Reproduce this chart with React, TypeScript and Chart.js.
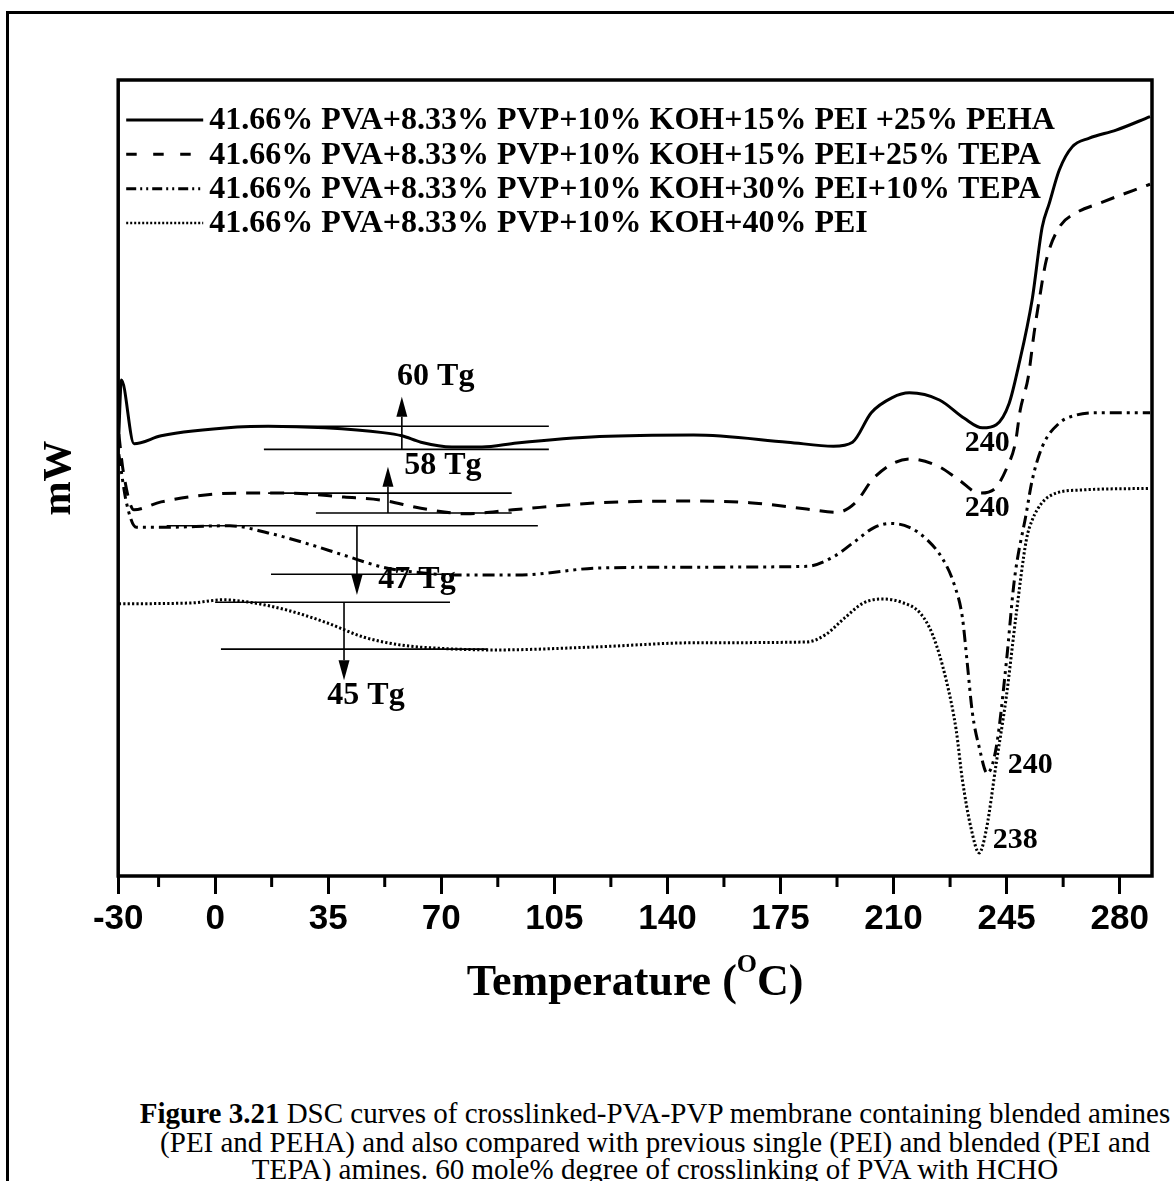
import React, { useEffect, useRef } from 'react';
import { Chart, registerables } from 'chart.js';

Chart.register(...registerables);

// ---------- data ----------
const seriesNames = [
  '41.66% PVA+8.33% PVP+10% KOH+15% PEI +25% PEHA',
  '41.66% PVA+8.33% PVP+10% KOH+15% PEI+25% TEPA',
  '41.66% PVA+8.33% PVP+10% KOH+30% PEI+10% TEPA',
  '41.66% PVA+8.33% PVP+10% KOH+40% PEI',
];

const solidT = [-29.9, -29.0, -25.1, -16.7, 6.8, 16.4, 34.0, 51.9, 57.8, 63.7, 73.3, 82.6, 93.4, 119.0, 148.1, 177.2, 191.4, 197.3, 203.1, 209.6, 214.9, 224.2, 231.9, 237.5, 241.8, 245.8, 248.6, 252.9, 256.0, 258.2, 261.3, 265.3, 270.6, 278.9, 289.4];
const solidV = [54.5, 62.3, 54.3, 55.3, 56.4, 56.5, 56.3, 55.7, 55.3, 54.5, 53.9, 53.9, 54.4, 55.2, 55.4, 54.5, 54.0, 54.5, 58.2, 60.1, 60.7, 59.8, 57.5, 56.3, 56.7, 59.4, 63.9, 72.4, 81.5, 84.5, 88.7, 91.6, 92.7, 93.7, 95.4];

const dashedT = [-29.8, -28.5, -25.1, -16.7, 6.8, 22.3, 39.9, 51.9, 63.7, 77.9, 92.1, 119.0, 148.1, 165.4, 183.1, 192.6, 198.2, 204.1, 214.9, 224.2, 230.4, 236.5, 241.2, 245.2, 247.7, 249.2, 251.7, 253.5, 255.1, 257.3, 261.3, 266.5, 273.6, 286.0, 289.4];
const dashedV = [55.5, 51.0, 46.0, 47.0, 48.1, 48.1, 47.6, 47.2, 46.2, 45.5, 46.0, 46.9, 47.1, 46.9, 46.1, 45.7, 46.9, 50.1, 52.4, 51.4, 49.7, 48.1, 48.6, 51.4, 54.4, 58.5, 62.7, 68.2, 72.4, 77.4, 81.5, 83.3, 84.5, 86.4, 86.9];

const dashDotT = [-29.8, -27.5, -24.4, -16.7, 4.6, 16.4, 28.1, 39.9, 51.9, 63.7, 75.4, 93.4, 119.0, 148.1, 183.1, 191.4, 197.3, 204.1, 209.0, 214.9, 220.5, 225.4, 228.8, 231.3, 232.8, 234.4, 236.5, 239.0, 241.8, 244.9, 247.4, 251.1, 252.9, 256.0, 261.3, 266.5, 273.6, 289.4];
const dashDotV = [53.0, 47.0, 43.8, 43.8, 44.0, 43.1, 41.8, 40.3, 38.8, 38.1, 37.8, 37.8, 38.7, 38.8, 38.9, 40.1, 41.8, 43.8, 44.3, 43.8, 42.2, 39.7, 36.6, 32.5, 26.8, 20.5, 16.2, 12.9, 16.2, 26.8, 37.2, 45.6, 49.7, 53.9, 56.9, 57.9, 58.2, 58.2];

const dottedT = [-29.8, -7.4, 2.2, 10.5, 22.3, 34.0, 46.1, 57.8, 69.6, 87.2, 119.0, 148.1, 183.1, 188.9, 194.8, 200.7, 206.5, 212.4, 218.3, 222.2, 226.3, 229.4, 231.3, 234.1, 236.5, 238.7, 241.8, 244.9, 248.0, 251.1, 252.9, 256.0, 260.3, 268.4, 289.4];
const dottedV = [34.2, 34.3, 34.7, 34.4, 33.4, 31.9, 30.0, 29.0, 28.6, 28.4, 28.8, 29.3, 29.4, 30.3, 32.4, 34.3, 34.8, 34.4, 33.0, 30.2, 24.6, 18.3, 12.1, 5.8, 2.9, 5.8, 14.2, 22.5, 33.0, 42.2, 44.7, 46.9, 48.1, 48.5, 48.7];

const majorTicks = [-30, 0, 35, 70, 105, 140, 175, 210, 245, 280];
const minorTicks = [-17.5, 17.5, 52.5, 87.5, 122.5, 157.5, 192.5, 227.5, 262.5];

// Tg annotations
const tgLabels = ['60 Tg', '58 Tg', '47 Tg', '45 Tg'];
const tgLabelX = [68.3, 70.5, 62.5, 46.7];
const tgLabelY = [62.7, 51.6, 37.2, 22.7];
const tgArrowX = [57.8, 53.5, 43.9, 39.9];
const tgArrowFrom = [53.6, 45.6, 44.0, 34.4];
const tgArrowTo = [60.2, 51.4, 35.3, 24.6];
const tgUpperY = [56.5, 48.1, 44.0, 34.4];
const tgUpperX0 = [15.1, 16.4, -15.0, 0.0];
const tgUpperX1 = [103.3, 91.8, 99.9, 72.7];
const tgLowerY = [53.6, 45.6, 37.9, 28.5];
const tgLowerX0 = [15.1, 31.2, 17.3, 1.8];
const tgLowerX1 = [103.3, 91.8, 72.7, 84.4];

// peak labels
const peakLabels = ['240', '240', '240', '238'];
const peakX = [239.0, 239.0, 252.3, 247.7];
const peakY = [54.4, 46.2, 13.9, 4.5];

const xTitleMain = 'Temperature (';
const xTitleSup = 'O';
const xTitleEnd = 'C)';
const yTitle = 'mW';

const captionBold = 'Figure 3.21';
const captionLines = [
  ' DSC curves of crosslinked-PVA-PVP membrane containing blended amines',
  '(PEI and PEHA) and also compared with previous single (PEI) and blended (PEI and',
  'TEPA) amines. 60 mole% degree of crosslinking of PVA with HCHO',
];

// ---------- styles ----------
const SERIF = "'Liberation Serif', 'Times New Roman', Times, serif";
const SANS = "'Liberation Sans', Arial, Helvetica, sans-serif";
const plotDash = [[], [14, 10], [12, 5, 3, 5, 3, 5], [2.2, 2.2]];
const legendDash = [[], [10.5, 16.5], [10, 4, 2, 4, 2, 4], [2, 2]];

const toPoints = (xs: number[], ys: number[]) => xs.map((x, i) => ({ x, y: ys[i] }));

const decorPlugin = {
  id: 'decor',
  afterDraw(chart: any) {
    const { ctx, chartArea: a, scales } = chart;
    const xs = scales.x;
    const ys = scales.y;
    const px = (v: number) => xs.getPixelForValue(v);
    const py = (v: number) => ys.getPixelForValue(v);
    ctx.save();
    ctx.strokeStyle = '#000';
    ctx.fillStyle = '#000';

    // frame
    ctx.setLineDash([]);
    ctx.lineWidth = 3.5;
    ctx.strokeRect(a.left, a.top, a.right - a.left, a.bottom - a.top);

    // minor ticks
    ctx.lineWidth = 3;
    ctx.beginPath();
    for (const v of minorTicks) {
      const x = px(v);
      ctx.moveTo(x, a.bottom);
      ctx.lineTo(x, a.bottom + 11);
    }
    ctx.stroke();

    // legend
    for (let i = 0; i < seriesNames.length; i++) {
      const yy = a.top + 40 + i * 34.33;
      ctx.setLineDash(legendDash[i]);
      ctx.lineWidth = i === 3 ? 2.6 : 3;
      ctx.beginPath();
      ctx.moveTo(a.left + 8, yy);
      ctx.lineTo(a.left + 85, yy);
      ctx.stroke();
      ctx.setLineDash([]);
      ctx.font = `bold 32px ${SERIF}`;
      ctx.textAlign = 'left';
      ctx.textBaseline = 'middle';
      ctx.fillText(seriesNames[i], a.left + 91, yy + 1);
    }

    // Tg annotations
    ctx.setLineDash([]);
    for (let i = 0; i < tgLabels.length; i++) {
      ctx.lineWidth = 1.6;
      ctx.beginPath();
      ctx.moveTo(px(tgUpperX0[i]), py(tgUpperY[i]));
      ctx.lineTo(px(tgUpperX1[i]), py(tgUpperY[i]));
      ctx.moveTo(px(tgLowerX0[i]), py(tgLowerY[i]));
      ctx.lineTo(px(tgLowerX1[i]), py(tgLowerY[i]));
      ctx.stroke();
      // arrow
      const ax = px(tgArrowX[i]);
      const y0 = py(tgArrowFrom[i]);
      const y1 = py(tgArrowTo[i]);
      const dir = y1 < y0 ? -1 : 1;
      const headLen = 20;
      const headHalf = 5.5;
      ctx.beginPath();
      ctx.moveTo(ax, y0);
      ctx.lineTo(ax, y1 - dir * headLen);
      ctx.stroke();
      ctx.beginPath();
      ctx.moveTo(ax, y1);
      ctx.lineTo(ax - headHalf, y1 - dir * headLen);
      ctx.lineTo(ax + headHalf, y1 - dir * headLen);
      ctx.closePath();
      ctx.fill();
      // label
      ctx.font = `bold 32px ${SERIF}`;
      ctx.textAlign = 'center';
      ctx.textBaseline = 'middle';
      ctx.fillText(tgLabels[i], px(tgLabelX[i]), py(tgLabelY[i]));
    }

    // peak labels
    ctx.font = `bold 30px ${SERIF}`;
    ctx.textAlign = 'center';
    ctx.textBaseline = 'middle';
    for (let i = 0; i < peakLabels.length; i++) {
      ctx.fillText(peakLabels[i], px(peakX[i]), py(peakY[i]));
    }

    // x title with superscript
    const mainFont = `bold 44px ${SERIF}`;
    const supFont = `bold 26px ${SERIF}`;
    ctx.font = mainFont;
    const w1 = ctx.measureText(xTitleMain).width;
    const w3 = ctx.measureText(xTitleEnd).width;
    ctx.font = supFont;
    const w2 = ctx.measureText(xTitleSup).width;
    const total = w1 + w2 + w3;
    const cx = (a.left + a.right) / 2;
    const baseY = a.bottom + 119;
    let x0 = cx - total / 2;
    ctx.textAlign = 'left';
    ctx.textBaseline = 'alphabetic';
    ctx.font = mainFont;
    ctx.fillText(xTitleMain, x0, baseY);
    x0 += w1;
    ctx.font = supFont;
    ctx.fillText(xTitleSup, x0, baseY - 23);
    x0 += w2;
    ctx.font = mainFont;
    ctx.fillText(xTitleEnd, x0, baseY);

    ctx.restore();
  },
};

function DscChart() {
  const ref = useRef<HTMLCanvasElement | null>(null);
  useEffect(() => {
    if (!ref.current) return;
    const series = [
      toPoints(solidT, solidV),
      toPoints(dashedT, dashedV),
      toPoints(dashDotT, dashDotV),
      toPoints(dottedT, dottedV),
    ];
    const chart = new Chart(ref.current, {
      type: 'line',
      data: {
        datasets: series.map((pts, i) => ({
          label: seriesNames[i],
          data: pts,
          borderColor: '#000',
          backgroundColor: '#000',
          borderWidth: 3,
          borderDash: plotDash[i],
          pointRadius: 0,
          fill: false,
          cubicInterpolationMode: 'monotone' as const,
        })),
      },
      options: {
        animation: false,
        responsive: false,
        devicePixelRatio: 1,
        layout: { padding: { left: 20, right: 22, top: 80, bottom: 96 } },
        plugins: { legend: { display: false }, tooltip: { enabled: false } },
        scales: {
          x: {
            type: 'linear',
            min: -30,
            max: 290,
            afterBuildTicks: (s: any) => {
              s.ticks = majorTicks.map((v) => ({ value: v }));
            },
            grid: {
              display: true,
              drawOnChartArea: false,
              drawTicks: true,
              tickLength: 18,
              tickWidth: 3,
              tickColor: '#000',
            },
            border: { display: false },
            ticks: {
              padding: 4,
              color: '#000',
              autoSkip: false,
              maxRotation: 0,
              font: { family: SANS, size: 35, weight: 'bold' },
            },
            title: { display: false },
          },
          y: {
            type: 'linear',
            min: 0,
            max: 100,
            grid: { display: false, drawTicks: false },
            border: { display: false },
            ticks: { display: false },
            title: {
              display: true,
              text: yTitle,
              color: '#000',
              font: { family: SERIF, size: 41, weight: 'bold' },
              padding: { top: 15, bottom: 34 },
            },
          },
        },
      } as any,
      plugins: [decorPlugin],
    });
    return () => chart.destroy();
  }, []);
  return <canvas ref={ref} width={1174} height={1040} style={{ position: 'absolute', left: 0, top: 0, width: 1174, height: 1040 }} />;
}

export default function App() {
  const capStyle: React.CSSProperties = {
    position: 'absolute',
    left: 106,
    width: 1098,
    textAlign: 'center',
    fontFamily: SERIF,
    fontSize: 29,
    lineHeight: '29px',
    color: '#000',
    whiteSpace: 'nowrap',
  };
  return (
    <div style={{ position: 'absolute', left: 0, top: 0, width: 1174, height: 1181, overflow: 'hidden', background: '#fff' }}>
      <div style={{ position: 'absolute', left: 6, top: 11, width: 1200, height: 1200, borderLeft: '3px solid #000', borderTop: '3px solid #000' }} />
      <DscChart />
      <div style={{ ...capStyle, top: 1098.5 }}>
        <b>{captionBold}</b>
        {captionLines[0]}
      </div>
      <div style={{ ...capStyle, top: 1127.5 }}>{captionLines[1]}</div>
      <div style={{ ...capStyle, top: 1154.5 }}>{captionLines[2]}</div>
    </div>
  );
}
